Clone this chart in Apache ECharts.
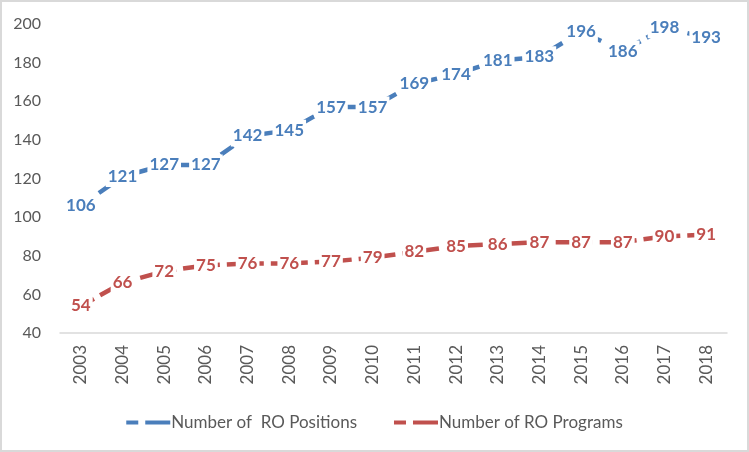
<!DOCTYPE html>
<html>
<head>
<meta charset="utf-8">
<script src="https://cdn.jsdelivr.net/npm/echarts@6/dist/echarts.min.js"></script>
<style>html,body{margin:0;padding:0;background:#fff}#c{width:749px;height:452px}</style>
</head>
<body>
<div id="c"></div>
<script>
const years = ['2003','2004','2005','2006','2007','2008','2009','2010','2011','2012','2013','2014','2015','2016','2017','2018'];
const positions = [106,121,127,127,142,145,157,157,169,174,181,183,196,186,198,193];
const programs = [54,66,72,75,76,76,77,79,82,85,86,87,87,87,90,91];
const yTicks = {min:40, max:200, interval:20};

const chart = echarts.init(document.getElementById('c'));
const font = 'Lato, "Open Sans", sans-serif';
function mk(name, data, color){
  return {
    name, type:'line', data, symbol:'circle', symbolSize:0.01, showSymbol:true,
    lineStyle:{color, width:4.5, type:[15,7]},
    itemStyle:{color},
    label:{show:true, position:'inside', color, fontFamily:font, fontWeight:'bold', fontSize:17,
      backgroundColor:'#fff', padding:[2,2]},
    labelLayout:{hideOverlap:false},
    z:2
  };
}
const dashIcon = 'path://M0,0h12v4h-12z M19,0h25v4h-25z';
chart.setOption({
  animation:false,
  textStyle:{fontFamily:font},
  graphic:[{type:'rect', shape:{x:1,y:1,width:747,height:450}, style:{fill:'none', stroke:'#d9d9d9', lineWidth:2}, z:-1}],
  grid:{left:60, right:22, top:24, bottom:119},
  xAxis:{type:'category', data:years, boundaryGap:true,
    axisLine:{lineStyle:{color:'#d9d9d9', width:1.5}}, axisTick:{show:false},
    axisLabel:{rotate:90, color:'#595959', fontSize:17, fontFamily:font, margin:12}},
  yAxis:{type:'value', min:yTicks.min, max:yTicks.max, interval:yTicks.interval,
    splitLine:{show:false}, axisLine:{show:false}, axisTick:{show:false},
    axisLabel:{color:'#595959', fontSize:16, fontFamily:font, margin:19}},
  legend:{bottom:16, left:'center', itemWidth:44, itemHeight:4, itemGap:37,
    icon:dashIcon,
    textStyle:{color:'#595959', fontSize:17, fontFamily:font, padding:[0,0,0,-4]},
    data:[{name:'Number of  RO Positions', itemStyle:{color:'#4a7ebb'}},
          {name:'Number of RO Programs', itemStyle:{color:'#c0504d'}}]},
  series:[mk('Number of  RO Positions', positions, '#4a7ebb'), mk('Number of RO Programs', programs, '#c0504d')]
});
</script>
</body>
</html>
